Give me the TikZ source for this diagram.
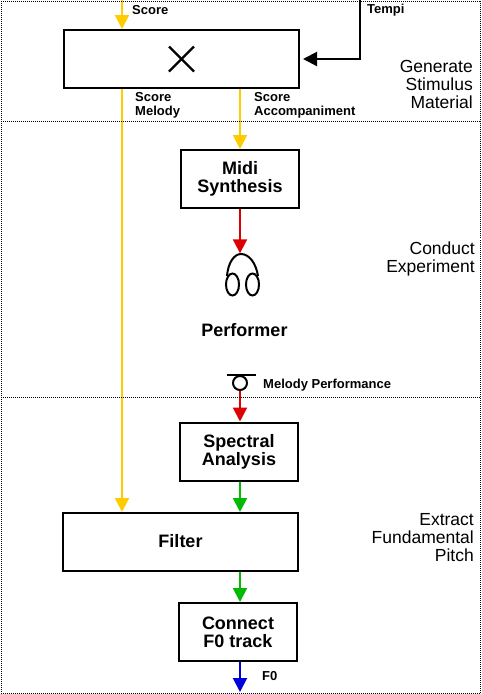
\documentclass[tikz,border=0pt]{standalone}
\usepackage{fontspec}
\setmainfont{Liberation Sans}
\usetikzlibrary{arrows.meta}
\definecolor{scoreyellow}{HTML}{FFCC00}
\definecolor{audiored}{HTML}{DD0000}
\definecolor{pitchgreen}{HTML}{00BB00}
\definecolor{outblue}{HTML}{0000DD}

\begin{document}
\begin{tikzpicture}[
  x=1pt, y=-1pt,
  box/.style={rectangle, draw, line width=2pt, minimum height=58pt, inner sep=0pt, align=center, font=\fontsize{18}{18}\selectfont\bfseries},
  lab/.style={inner sep=0pt, anchor=west, align=left, font=\fontsize{13}{14}\selectfont\bfseries},
  zonelab/.style={inner sep=0pt, anchor=east, align=right, font=\fontsize{17.5}{18}\selectfont},
  arr/.style={-{Triangle[length=14pt, width=14pt]}, line width=2pt},
  zone/.style={line width=0.8pt, dash pattern=on 1pt off 1pt},
  icon/.style={line width=2pt}
]
  \useasboundingbox (0,0) rectangle (482,694);

  \node[box, minimum width=235pt] (stimulus) at (181.5,59) {};
  \node[box, minimum width=118pt] (midi) at (240,179) {Midi\\Synthesis};
  \node[box, minimum width=118pt] (spectral) at (239,451.5) {Spectral\\Analysis};
  \node[box, minimum width=235pt] (filter) at (180.5,542) {\raisebox{2pt}{Filter}};
  \node[box, minimum width=118pt] (connect) at (238,632) {Connect\\F0 track};

  % cross in the top box
  \draw[line width=2.4pt] ([shift={(-12.5,-12.5)}]stimulus.center) -- ([shift={(12.5,12.5)}]stimulus.center);
  \draw[line width=2.4pt] ([shift={(-12.5,12.5)}]stimulus.center) -- ([shift={(12.5,-12.5)}]stimulus.center);

  % headphones
  \node[minimum width=34pt, minimum height=43pt, inner sep=0pt] (phones) at (240,275) {};
  \draw[icon] (227,276) .. controls (228,263) and (234,254) .. (241,254) .. controls (249,254) and (256,263) .. (258,276);
  \draw[icon] (232.5,284.5) ellipse (6.5 and 11);
  \draw[icon] (252.5,284.5) ellipse (6.5 and 11);

  \node[font=\fontsize{18}{18}\selectfont\bfseries, inner sep=0pt] (performer) at (244.5,330) {Performer};

  % microphone
  \node[circle, draw, line width=2pt, minimum size=14pt, inner sep=0pt] (mic) at (240,383) {};
  \draw[icon] (227,375) -- (256,375);

  \coordinate (scorein) at (122,0);
  \coordinate (tempiin) at (360,0);
  \coordinate (f0out) at (240,692);

  \draw[arr, scoreyellow] (scorein) -- (scorein |- stimulus.north);
  \draw[arr, scoreyellow] (scorein |- stimulus.south) -- (scorein |- filter.north);
  \draw[arr, scoreyellow] (midi.north |- stimulus.south) -- (midi.north);
  \draw[arr, audiored] (midi.south) -- (phones.north);
  \draw[arr, audiored] (mic.south) -- (mic.south |- spectral.north);
  \draw[arr, pitchgreen] (mic.south |- spectral.south) -- (mic.south |- filter.north);
  \draw[arr, pitchgreen] (mic.south |- filter.south) -- (mic.south |- connect.north);
  \draw[arr, outblue] (mic.south |- connect.south) -- (f0out);
  \draw[arr, black] (tempiin) |- ([xshift=3pt]stimulus.east);

  \node[lab] (scorelab) at (132,10) {Score};
  \node[lab] (tempilab) at (367,10) {Tempi};
  \node[lab] (melodylab) at (135,105) {Score\\Melody};
  \node[lab] (accomplab) at (254,105) {Score\\Accompaniment};
  \node[lab] (perflab) at (263,385) {Melody Performance};
  \node[lab] (f0lab) at (262,676) {F0};

  \node[zonelab] (generate) at (473,84) {Generate\\Stimulus\\Material};
  \node[zonelab] (conduct) at (475,259) {Conduct\\Experiment};
  \node[zonelab] (extract) at (474,538) {Extract\\Fundamental\\Pitch};

  \draw[zone] (1,1) rectangle (480.5,693);
  \draw[zone] (1,121) -- (480.5,121);
  \draw[zone] (1,397.5) -- (480.5,397.5);
\end{tikzpicture}
\end{document}
